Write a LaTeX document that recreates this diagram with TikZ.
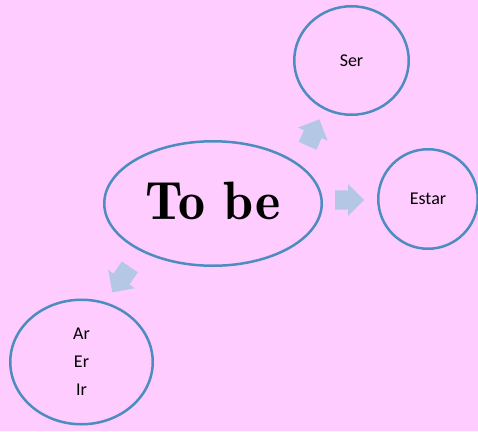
\documentclass[tikz,border=0pt]{standalone}
\usepackage{fontspec}
\newfontfamily\calib{Carlito}
\newfontfamily\demi{lmromandemi10-regular.otf}
\usetikzlibrary{shapes.geometric,shapes.arrows}
\definecolor{bgpink}{RGB}{255,204,255}
\definecolor{ringblue}{RGB}{76,140,192}
\definecolor{arrblue}{RGB}{180,200,230}
\tikzset{
  ring/.style={ellipse, draw=ringblue, line width=2.5pt, inner sep=0pt},
  small/.style={font=\calib\fontsize{18}{28}\selectfont, align=center},
  blockarrow/.style={single arrow, fill=arrblue, draw=none, inner xsep=0pt,
    inner ysep=9.5pt, text height=0pt, text depth=0pt, text width=0pt,
    single arrow head extend=6.5pt, anchor=tail}
}
\begin{document}
\begin{tikzpicture}[x=1pt,y=-1pt]
\fill[bgpink] (0,0) rectangle (478,431);
\useasboundingbox (0,0) rectangle (478,431);

\node[ring, minimum width=217.5pt, minimum height=124.5pt, text depth=6pt,
  font=\demi\fontsize{54}{54}\selectfont] (tobe) at (213,203.5) {To be};
\node[ring, small, minimum width=114.5pt, minimum height=108.5pt] (ser) at (351.5,60.5) {Ser};
\node[ring, small, minimum width=99.5pt, minimum height=99.5pt] (estar) at (428,199) {Estar};
\node[ring, small, minimum width=142.5pt, minimum height=124.5pt] (ar) at (81.5,362) {Ar\\Er\\Ir};

\node[blockarrow, minimum height=29pt, rotate=0] (a1) at (335,200) {};
\node[blockarrow, minimum height=29pt, rotate=66] (a2) at (307.5,146) {};
\node[blockarrow, minimum height=31pt, rotate=-124.5] (a3) at (130,266.7) {};
\end{tikzpicture}
\end{document}
